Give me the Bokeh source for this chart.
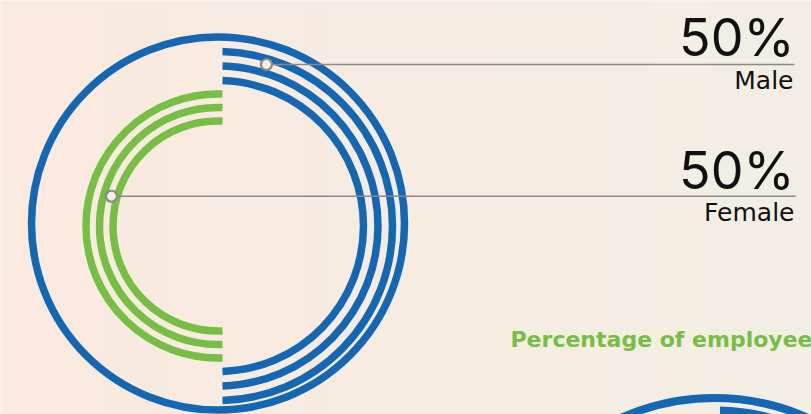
import numpy as np
from bokeh.plotting import figure
from bokeh.models import Range1d
from bokeh.embed import file_html
from bokeh.resources import INLINE
from bokeh.core.properties import value

# ---------------- data ----------------
categories = ["Male", "Female"]
shares = [50, 50]                      # percent
share_labels = [f"{s}%" for s in shares]
caption = "Percentage of employees"

# ---------------- layout / style ----------------
W, H = 811, 414
BLUE = "#1467B2"
GREEN = "#76BE44"
GRAY = "#8A8A8A"
BG = "#F6EDE3"

def Y(py):
    return H - py

p = figure(width=W, height=H, x_range=Range1d(0, W), y_range=Range1d(0, H),
           output_backend="svg", toolbar_location=None, min_border=0)
p.axis.visible = False
p.grid.visible = False
p.outline_line_color = None
p.background_fill_color = BG
p.border_fill_color = BG

# background gradient (peach -> beige)
c0 = np.array([251, 234, 224], dtype=float)
c1 = np.array([243, 239, 228], dtype=float)
t = np.linspace(0, 1, W)[:, None]
cols = (c0 * (1 - t) + c1 * t).astype(np.uint8)
img = np.empty((1, W), dtype=np.uint32)
view = img.view(dtype=np.uint8).reshape((1, W, 4))
view[0, :, 0] = cols[:, 0]
view[0, :, 1] = cols[:, 1]
view[0, :, 2] = cols[:, 2]
view[0, :, 3] = 255
p.image_rgba(image=[img], x=0, y=0, dw=W, dh=H)

# main donut geometry
cx, cy = 217.5, Y(225.5)
split_x = 222.0
ring_w = 7.5

# outer frame circle
p.circle(x=[217.5], y=[Y(223)], radius=186.5, fill_color=None,
         line_color=BLUE, line_width=7.5)

male_radii = [174.5, 160.0, 145.5]
female_radii = [132.0, 118.5, 105.0]

# male rings (clockwise from top)
ms, me, mr = [], [], []
for r in male_radii:
    d = np.arcsin((split_x - cx) / r)
    ms.append(np.pi / 2 - d)
    me.append(np.pi / 2 - shares[0] / 100 * 2 * np.pi + d)
    mr.append(r)
p.arc(x=[cx] * len(mr), y=[cy] * len(mr), radius=mr, start_angle=ms, end_angle=me,
      direction="clock", line_color=BLUE, line_width=ring_w, line_cap="butt")

# female rings (anticlockwise from top)
fs, fe, fr = [], [], []
for r in female_radii:
    d = np.arcsin((split_x - cx) / r)
    fs.append(np.pi / 2 - d)
    fe.append(np.pi / 2 + shares[1] / 100 * 2 * np.pi + d)
    fr.append(r)
p.arc(x=[cx] * len(fr), y=[cy] * len(fr), radius=fr, start_angle=fs, end_angle=fe,
      direction="anticlock", line_color=GREEN, line_width=ring_w, line_cap="butt")

# next chart (partially visible at bottom right)
cx2, cy2 = 714.0, Y(397.5 + 230)
p.circle(x=[cx2], y=[cy2], radius=230, fill_color=None, line_color=BLUE, line_width=8)
d2 = np.arcsin((719.5 - cx2) / 217.5)
p.arc(x=[cx2], y=[cy2], radius=217.5, start_angle=np.pi / 2 - d2, end_angle=0,
      direction="clock", line_color=BLUE, line_width=8, line_cap="butt")

# leader lines + markers
marker_angle = [73.3, 164.4]
marker_radius = [168.6, 110.6]
mx = [cx + r * np.cos(np.radians(a)) for a, r in zip(marker_angle, marker_radius)]
my = [cy + r * np.sin(np.radians(a)) for a, r in zip(marker_angle, marker_radius)]
p.segment(x0=mx, y0=my, x1=[794, 795], y1=my, line_color=GRAY, line_width=1.5)
p.scatter(x=mx, y=my, size=11, marker="circle", fill_color=BG,
          line_color=GRAY, line_width=2.2)

# texts
p.text(x=[794, 794], y=[Y(37), Y(169.5)], text=share_labels,
       text_font=value("Inter"), text_font_size="52px", text_align="right",
       text_baseline="alphabetic", text_color="#111111")
p.text(x=[793, 794], y=[Y(79.5), Y(212)], text=categories,
       text_font=value("DejaVu Sans"), text_font_size="25px", text_align="right",
       text_baseline="alphabetic", text_color="#111111")
p.text(x=[510], y=[Y(338.5)], text=[caption],
       text_font=value("DejaVu Sans"), text_font_size="22px", text_font_style="bold",
       text_align="left", text_baseline="alphabetic", text_color=GREEN)

open("out.html", "w").write(file_html(p, INLINE))
